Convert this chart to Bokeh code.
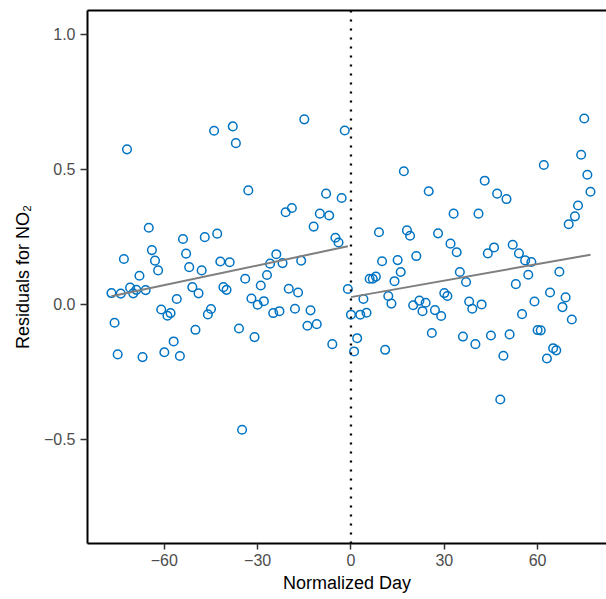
from bokeh.plotting import figure
from bokeh.models import LinearAxis, FixedTicker, Span
from bokeh.embed import file_html
from bokeh.resources import INLINE

# ---- data ----
days_before = [-77, -76, -75, -74, -73, -72, -71, -70, -69, -68, -67, -66, -65, -64,
               -63, -62, -61, -60, -59, -58, -57, -56, -55, -54, -53, -52, -51, -50,
               -49, -48, -47, -46, -45, -44, -43, -42, -41, -40, -39, -38, -37, -36,
               -35, -34, -33, -32, -31, -30, -29, -28, -27, -26, -25, -24, -23, -22,
               -21, -20, -19, -18, -17, -16, -15, -14, -13, -12, -11, -10, -8, -7,
               -6, -5, -4, -3, -2, -1]
resid_before = [0.042, -0.068, -0.185, 0.040, 0.168, 0.574, 0.062, 0.041, 0.054, 0.106,
                -0.195, 0.053, 0.284, 0.201, 0.162, 0.126, -0.019, -0.177, -0.042, -0.032,
                -0.137, 0.020, -0.191, 0.242, 0.188, 0.138, 0.064, -0.094, 0.041, 0.126,
                0.249, -0.037, -0.017, 0.643, 0.262, 0.159, 0.064, 0.054, 0.156, 0.659,
                0.597, -0.089, -0.464, 0.095, 0.422, 0.022, -0.121, -0.001, 0.070, 0.012,
                0.109, 0.151, -0.032, 0.186, -0.025, 0.153, 0.341, 0.058, 0.357, -0.016,
                0.044, 0.162, 0.685, -0.079, -0.022, 0.288, -0.073, 0.336, 0.410, 0.329,
                -0.147, 0.247, 0.229, 0.394, 0.644, 0.057]

days_after = [0, 1, 2, 3, 4, 5, 6, 7, 8, 9, 10, 11, 12, 13, 14, 15, 16, 17, 18, 19,
              20, 21, 22, 23, 24, 25, 26, 27, 28, 29, 30, 31, 32, 33, 34, 35, 36, 37,
              38, 39, 40, 41, 42, 43, 44, 45, 46, 47, 48, 49, 50, 51, 52, 53, 54, 55,
              56, 57, 58, 59, 60, 61, 62, 63, 64, 65, 66, 67, 68, 69, 70, 71, 72, 73,
              74, 75, 76, 77]
resid_after = [-0.038, -0.174, -0.125, -0.038, 0.020, -0.031, 0.095, 0.095, 0.103, 0.267,
               0.160, -0.168, 0.031, 0.003, 0.086, 0.164, 0.120, 0.493, 0.274, 0.254,
               -0.003, 0.179, 0.014, -0.025, 0.006, 0.419, -0.106, -0.021, 0.263, -0.043,
               0.042, 0.031, 0.225, 0.336, 0.193, 0.120, -0.119, 0.083, 0.011, -0.016,
               -0.147, 0.336, 0.000, 0.458, 0.189, -0.115, 0.211, 0.410, -0.352, -0.190,
               0.390, -0.111, 0.221, 0.075, 0.189, -0.036, 0.163, 0.110, 0.157, 0.011,
               -0.095, -0.096, 0.516, -0.200, 0.044, -0.162, -0.170, 0.121, -0.010, 0.026,
               0.297, -0.056, 0.326, 0.366, 0.554, 0.688, 0.480, 0.417]

fit_before_x = [-77, -1]
fit_before_y = [0.030, 0.215]
fit_after_x = [0, 77]
fit_after_y = [0.027, 0.184]

cutoff_day = 0

x_ticks = [-60, -30, 0, 30, 60]
x_tick_labels = ["\u221260", "\u221230", "0", "30", "60"]
y_ticks = [-0.5, 0.0, 0.5, 1.0]
y_tick_labels = ["\u22120.5", "0.0", "0.5", "1.0"]

x_title = "Normalized Day"
y_title = "Residuals for NO\u2082"

FONT = "Liberation Sans"

p = figure(width=606, height=599, x_range=(-84.7, 82.15), y_range=(-0.885, 1.088),
           output_backend="svg", toolbar_location=None,
           min_border_left=87, min_border_right=0, min_border_top=10, min_border_bottom=56)
p.outline_line_color = None
p.grid.visible = False
p.background_fill_color = "white"
p.border_fill_color = "white"

xa = p.xaxis[0]
ya = p.yaxis[0]
xa.ticker = FixedTicker(ticks=x_ticks)
xa.major_label_overrides = dict(zip(x_ticks, x_tick_labels))
ya.ticker = FixedTicker(ticks=y_ticks)
ya.major_label_overrides = dict(zip(y_ticks, y_tick_labels))

for ax in (xa, ya):
    ax.axis_line_color = "black"
    ax.axis_line_width = 2
    ax.major_tick_line_color = "#333333"
    ax.major_tick_line_width = 1.5
    ax.major_tick_in = 0
    ax.minor_tick_line_color = None
    ax.major_label_text_font = FONT
    ax.major_label_text_font_size = "16px"
    ax.major_label_text_color = "#4d4d4d"
    ax.axis_label_text_font = FONT
    ax.axis_label_text_font_size = "18px"
    ax.axis_label_text_font_style = "normal"
    ax.axis_label_text_color = "black"

xa.axis_label = x_title
xa.major_tick_out = 6
xa.major_label_standoff = 4
xa.axis_label_standoff = 4

ya.axis_label = y_title
ya.major_tick_out = 7
ya.major_label_standoff = 5
ya.axis_label_standoff = 8

top = LinearAxis(ticker=FixedTicker(ticks=[]), axis_line_color="black", axis_line_width=2,
                 major_tick_out=0, major_tick_in=0, minor_tick_out=0, minor_tick_in=0,
                 major_label_text_font_size="0px", major_label_standoff=0)
p.add_layout(top, "above")

p.add_layout(Span(location=cutoff_day, dimension="height", line_color="black",
                  line_width=2.3, line_dash="2 7"))

blue = "#0073C2"
p.scatter(days_before, resid_before, marker="circle", size=8.6, fill_color=None,
          line_color=blue, line_width=1.5)
p.scatter(days_after, resid_after, marker="circle", size=8.6, fill_color=None,
          line_color=blue, line_width=1.5)

p.line(fit_before_x, fit_before_y, line_color="#7f7f7f", line_width=2)
p.line(fit_after_x, fit_after_y, line_color="#7f7f7f", line_width=2)

open("out.html", "w").write(file_html(p, INLINE))
